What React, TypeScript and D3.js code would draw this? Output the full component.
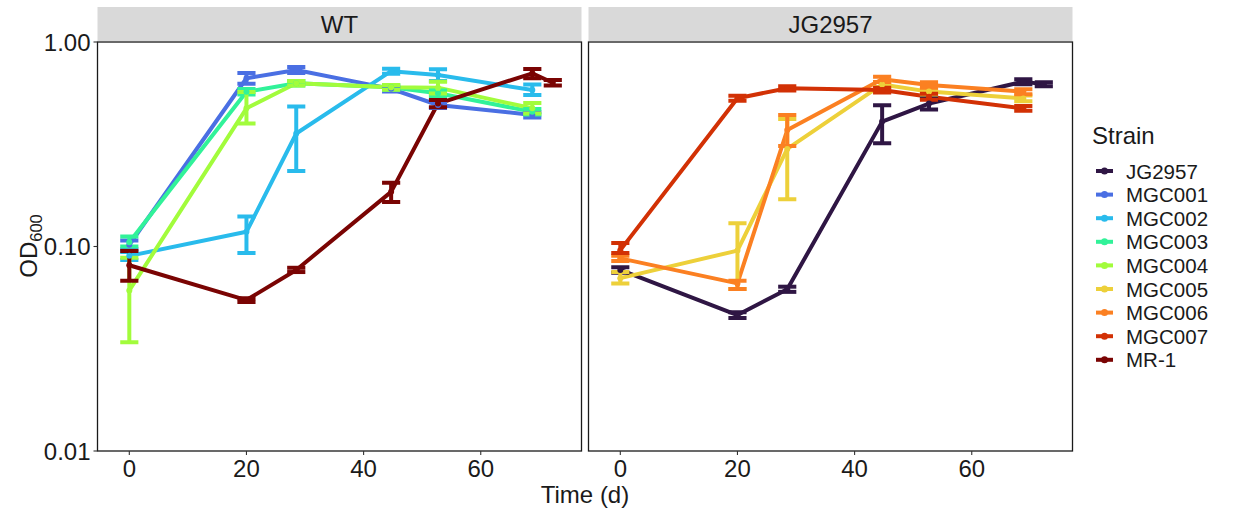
import React from "react";
import * as d3 from "d3";

// Sampling days (the two control strains have one extra late reading)
const times = [0, 20, 28.5, 44.7, 52.7, 68.8];
const timesCtrl = [0, 20, 28.5, 44.7, 52.7, 68.8, 72.3];

const strains = ["JG2957", "MGC001", "MGC002", "MGC003", "MGC004", "MGC005", "MGC006", "MGC007", "MR-1"];
const strainColors = ["#2f1644", "#4a6fe3", "#29bbec", "#31f299", "#a2fc3c", "#edd03a", "#fb8022", "#d23105", "#7a0403"];

const facets = ["WT", "JG2957"];

// OD600 means with lower / upper error limits
const mgc001 = [0.102, 0.665, 0.73, 0.59, 0.492, 0.44];
const mgc001Lo = [0.097, 0.625, 0.705, 0.572, 0.476, 0.427];
const mgc001Hi = [0.107, 0.705, 0.755, 0.608, 0.508, 0.453];

const mgc002 = [0.09, 0.118, 0.357, 0.72, 0.69, 0.582];
const mgc002Lo = [0.086, 0.093, 0.234, 0.7, 0.645, 0.55];
const mgc002Hi = [0.094, 0.14, 0.484, 0.74, 0.735, 0.62];

const mgc003 = [0.105, 0.571, 0.628, 0.6, 0.561, 0.456];
const mgc003Lo = [0.1, 0.553, 0.612, 0.584, 0.543, 0.442];
const mgc003Hi = [0.112, 0.589, 0.644, 0.616, 0.579, 0.47];

const mgc004 = [0.061, 0.474, 0.628, 0.6, 0.598, 0.474];
const mgc004Lo = [0.034, 0.4, 0.612, 0.584, 0.56, 0.447];
const mgc004Hi = [0.088, 0.57, 0.644, 0.616, 0.64, 0.503];

const mr1 = [0.081, 0.0547, 0.0768, 0.185, 0.5, 0.703, 0.632];
const mr1Lo = [0.068, 0.0535, 0.075, 0.165, 0.48, 0.665, 0.612];
const mr1Hi = [0.095, 0.0559, 0.0787, 0.205, 0.52, 0.738, 0.652];

const jg2957 = [0.0768, 0.0462, 0.0618, 0.408, 0.5, 0.64, 0.621];
const jg2957Lo = [0.0745, 0.0447, 0.06, 0.32, 0.467, 0.622, 0.607];
const jg2957Hi = [0.0792, 0.0477, 0.0636, 0.49, 0.533, 0.658, 0.635];

const mgc005 = [0.07, 0.0955, 0.3, 0.62, 0.572, 0.53];
const mgc005Lo = [0.066, 0.062, 0.17, 0.602, 0.553, 0.513];
const mgc005Hi = [0.075, 0.13, 0.42, 0.638, 0.591, 0.547];

const mgc006 = [0.0875, 0.066, 0.371, 0.657, 0.616, 0.572];
const mgc006Lo = [0.085, 0.062, 0.31, 0.637, 0.597, 0.556];
const mgc006Hi = [0.09, 0.068, 0.44, 0.677, 0.635, 0.588];

const mgc007 = [0.096, 0.531, 0.594, 0.582, 0.54, 0.474];
const mgc007Lo = [0.093, 0.516, 0.58, 0.566, 0.522, 0.461];
const mgc007Hi = [0.104, 0.546, 0.608, 0.598, 0.558, 0.487];

const yTicks = [0.01, 0.1, 1];
const yTickLabels = ["0.01", "0.10", "1.00"];
const xTicks = [0, 20, 40, 60];

type Series = { strain: string; facet: string; t: number[]; y: number[]; lo: number[]; hi: number[] };

const series: Series[] = [
  { strain: "MGC001", facet: "WT", t: times, y: mgc001, lo: mgc001Lo, hi: mgc001Hi },
  { strain: "MGC002", facet: "WT", t: times, y: mgc002, lo: mgc002Lo, hi: mgc002Hi },
  { strain: "MGC003", facet: "WT", t: times, y: mgc003, lo: mgc003Lo, hi: mgc003Hi },
  { strain: "MGC004", facet: "WT", t: times, y: mgc004, lo: mgc004Lo, hi: mgc004Hi },
  { strain: "MR-1", facet: "WT", t: timesCtrl, y: mr1, lo: mr1Lo, hi: mr1Hi },
  { strain: "JG2957", facet: "JG2957", t: timesCtrl, y: jg2957, lo: jg2957Lo, hi: jg2957Hi },
  { strain: "MGC005", facet: "JG2957", t: times, y: mgc005, lo: mgc005Lo, hi: mgc005Hi },
  { strain: "MGC006", facet: "JG2957", t: times, y: mgc006, lo: mgc006Lo, hi: mgc006Hi },
  { strain: "MGC007", facet: "JG2957", t: times, y: mgc007, lo: mgc007Lo, hi: mgc007Hi },
];

const W = 1237;
const H = 510;
const panelTop = 42;
const panelBottom = 451;
const stripTop = 7;
const panels = [
  { name: "WT", x0: 97.5, x1: 581.5 },
  { name: "JG2957", x0: 588.5, x1: 1072.5 },
];
const xDomain: [number, number] = [-5.43, 77.2];
const capHalf = 1.55; // half-width of error bar caps, in days

const FONT = "'Liberation Sans', Arial, sans-serif";
const TXT = "#1a1a1a";
const FS = 24;
const LEGEND_FS = 20.5;

const colorOf = d3.scaleOrdinal<string, string>().domain(strains).range(strainColors);

export default function App() {
  const y = d3.scaleLog().domain([0.01, 1]).range([panelBottom, panelTop]);

  const legendX = 1092;
  const legendTitleY = 135;
  const legendY0 = 171;
  const legendStep = 23.6;

  return (
    <svg
      width={W}
      height={H}
      style={{ position: "absolute", left: 0, top: 0, background: "white" }}
      fontFamily={FONT}
    >
      {panels.map((p, pi) => {
        const x = d3.scaleLinear().domain(xDomain).range([p.x0, p.x1]);
        const line = d3
          .line<[number, number]>()
          .x((d) => x(d[0]))
          .y((d) => y(d[1]));
        const ss = series
          .filter((s) => s.facet === facets[pi])
          .sort((a, b) => strains.indexOf(a.strain) - strains.indexOf(b.strain));
        return (
          <g key={p.name}>
            {/* strip */}
            <rect x={p.x0} y={stripTop} width={p.x1 - p.x0} height={panelTop - stripTop - 1} fill="#d9d9d9" />
            <text x={(p.x0 + p.x1) / 2} y={33} textAnchor="middle" fontSize={FS} fill={TXT}>
              {p.name}
            </text>
            <rect x={p.x0} y={panelTop} width={p.x1 - p.x0} height={panelBottom - panelTop} fill="white" />
            <clipPath id={`clip-${pi}`}>
              <rect x={p.x0} y={panelTop} width={p.x1 - p.x0} height={panelBottom - panelTop} />
            </clipPath>
            <g clipPath={`url(#clip-${pi})`}>
              {ss.map((s) => (
                <path
                  key={s.strain + "-l"}
                  d={line(s.t.map((t, i) => [t, s.y[i]] as [number, number])) || ""}
                  fill="none"
                  stroke={colorOf(s.strain)}
                  strokeWidth={4}
                  strokeLinejoin="round"
                />
              ))}
              {ss.map((s) => (
                <g key={s.strain + "-e"} stroke={colorOf(s.strain)} strokeWidth={4} fill="none">
                  {s.t.map((t, i) => (
                    <g key={i}>
                      <line x1={x(t)} x2={x(t)} y1={y(s.lo[i])} y2={y(s.hi[i])} />
                      <line x1={x(t - capHalf)} x2={x(t + capHalf)} y1={y(s.lo[i])} y2={y(s.lo[i])} />
                      <line x1={x(t - capHalf)} x2={x(t + capHalf)} y1={y(s.hi[i])} y2={y(s.hi[i])} />
                    </g>
                  ))}
                </g>
              ))}
              {ss.map((s) => (
                <g key={s.strain + "-p"} fill={colorOf(s.strain)}>
                  {s.t.map((t, i) => (
                    <circle key={i} cx={x(t)} cy={y(s.y[i])} r={3} />
                  ))}
                </g>
              ))}
            </g>
            <rect
              x={p.x0}
              y={panelTop}
              width={p.x1 - p.x0}
              height={panelBottom - panelTop}
              fill="none"
              stroke="#1a1a1a"
              strokeWidth={1.3}
            />
            {/* x axis */}
            {xTicks.map((t) => (
              <g key={t}>
                <line x1={x(t)} x2={x(t)} y1={panelBottom} y2={panelBottom + 4} stroke="#333" strokeWidth={1.1} />
                <text x={x(t)} y={477} textAnchor="middle" fontSize={FS} fill={TXT}>
                  {t}
                </text>
              </g>
            ))}
            {/* y axis on first panel only */}
            {pi === 0 &&
              yTicks.map((v, i) => (
                <g key={v}>
                  <line x1={p.x0 - 4} x2={p.x0} y1={y(v)} y2={y(v)} stroke="#333" strokeWidth={1.1} />
                  <text x={p.x0 - 7} y={y(v) + 8.5} textAnchor="end" fontSize={FS} fill={TXT}>
                    {yTickLabels[i]}
                  </text>
                </g>
              ))}
          </g>
        );
      })}

      {/* axis titles */}
      <text x={(panels[0].x0 + panels[1].x1) / 2} y={503} textAnchor="middle" fontSize={FS} fill={TXT}>
        Time (d)
      </text>
      <text transform={`translate(37,246) rotate(-90)`} textAnchor="middle" fontSize={FS} fill={TXT}>
        OD
        <tspan fontSize={16.5} dy={5}>
          600
        </tspan>
      </text>

      {/* legend */}
      <text x={legendX} y={legendTitleY + 8.5} fontSize={FS} fill={TXT}>
        Strain
      </text>
      {strains.map((s, i) => {
        const cy = legendY0 + i * legendStep;
        return (
          <g key={s}>
            <line x1={1096} x2={1113} y1={cy} y2={cy} stroke={colorOf(s)} strokeWidth={4} />
            <circle cx={1104.5} cy={cy} r={3.5} fill={colorOf(s)} />
            <text x={1126} y={cy + 7.5} fontSize={LEGEND_FS} fill={TXT}>
              {s}
            </text>
          </g>
        );
      })}
    </svg>
  );
}
